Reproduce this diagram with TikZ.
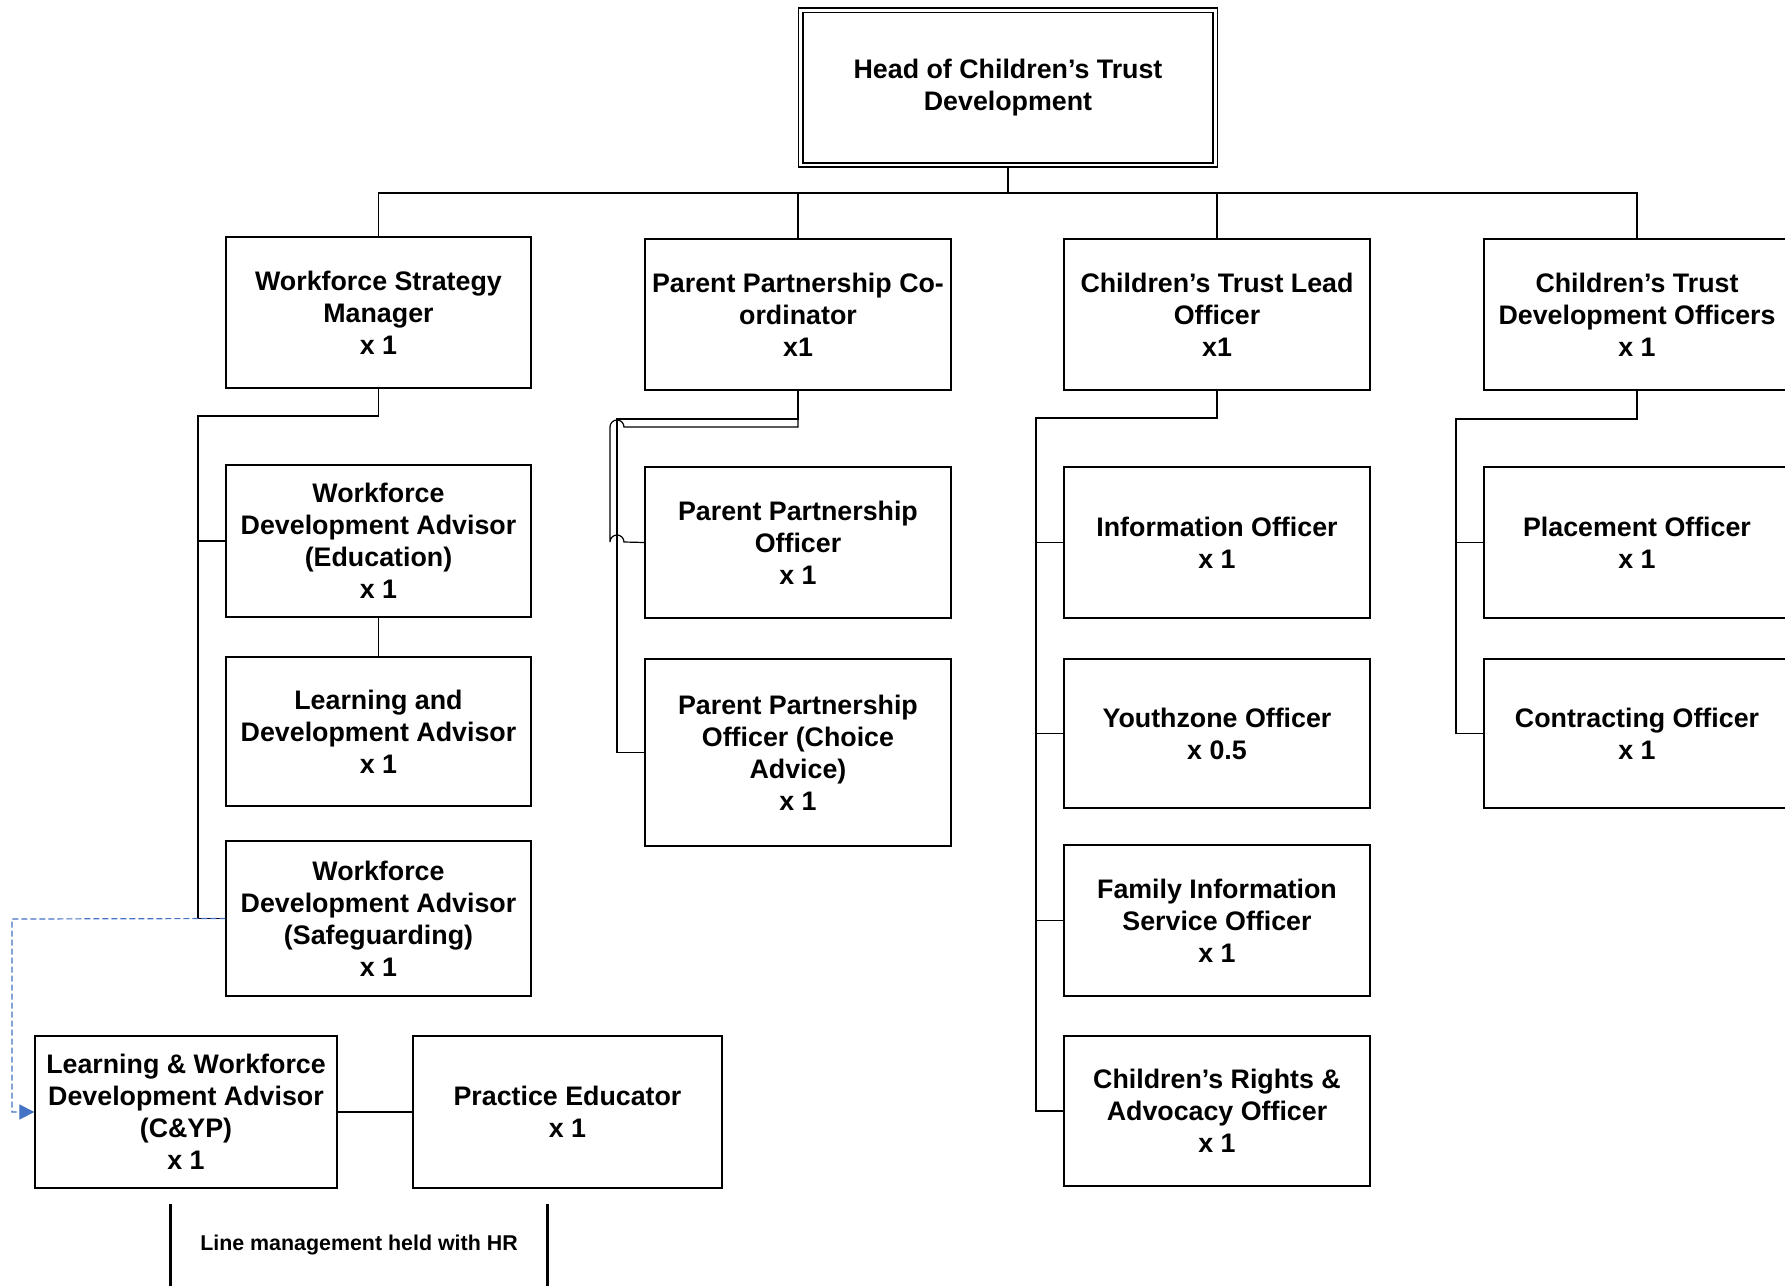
\documentclass[tikz,border=0pt]{standalone}
\usepackage{fontspec}
\setmainfont{Liberation Sans}
\usetikzlibrary{arrows.meta,calc}
\definecolor{linkblue}{HTML}{4472C4}
\begin{document}
\begin{tikzpicture}[x=0.5pt,y=-0.5pt,
  every node/.style={font=\bfseries\fontsize{13.4pt}{16pt}\selectfont, align=center, inner sep=0pt},
  post/.style={draw, line width=0.65pt, minimum width=153pt, minimum height=75.5pt},
  headpost/.style={draw, line width=0.9pt, double, double distance=1.3pt, minimum width=207.3pt, minimum height=77.3pt},
  conn/.style={line width=0.6pt},
  dashlink/.style={draw=linkblue, line width=0.6pt, dash pattern=on 3pt off 1.5pt, -{Triangle[length=7.5pt,width=7.5pt]}},
  hrline/.style={line width=1.4pt},
  notefont/.style={font=\bfseries\fontsize{10.7pt}{13pt}\selectfont}
]
\useasboundingbox (0,0) rectangle (1785,1286);

% head
\node[headpost] (head) at (1008,87.5) {Head of Children’s Trust\\Development};

% first tier
\node[post, minimum width=152.5pt] (wsm) at (378.5,312.5) {Workforce Strategy\\Manager\\x 1};
\node[post] (ppc) at (798,314.5) {Parent Partnership Co-\\ordinator\\x1};
\node[post] (ctl) at (1217,314.5) {Children’s Trust Lead\\Officer\\x1};
\node[post] (ctd) at (1637,314.5) {Children’s Trust\\Development Officers\\x 1};

% workforce column
\node[post, minimum width=152.5pt, minimum height=76pt] (wdae) at (378.5,541) {Workforce\\Development Advisor\\(Education)\\x 1};
\node[post, minimum width=152.5pt, minimum height=74.5pt] (lda) at (378.5,731.5) {Learning and\\Development Advisor\\x 1};
\node[post, minimum width=152.5pt, minimum height=77.5pt] (wdas) at (378.5,918.5) {Workforce\\Development Advisor\\(Safeguarding)\\x 1};
\node[post, minimum width=151pt, minimum height=76pt] (lwd) at (186,1112) {Learning \& Workforce\\Development Advisor\\(C\&YP)\\x 1};
\node[post, minimum width=154.5pt, minimum height=76pt] (pe) at (567.5,1112) {Practice Educator\\x 1};

% parent partnership column
\node[post] (ppo) at (798,542.5) {Parent Partnership\\Officer\\x 1};
\node[post, minimum height=93.5pt] (ppca) at (798,752.5) {Parent Partnership\\Officer (Choice\\Advice)\\x 1};

% lead officer column
\node[post] (info) at (1217,542.5) {Information Officer\\x 1};
\node[post, minimum height=74.5pt] (youth) at (1217,733.5) {Youthzone Officer\\x 0.5};
\node[post] (fiso) at (1217,920.5) {Family Information\\Service Officer\\x 1};
\node[post, minimum height=75pt] (rights) at (1217,1111) {Children’s Rights \&\\Advocacy Officer\\x 1};

% development officers column
\node[post] (place) at (1637,542.5) {Placement Officer\\x 1};
\node[post, minimum height=74.5pt] (contr) at (1637,733.5) {Contracting Officer\\x 1};

% note at the foot
\node[notefont, minimum width=188pt, minimum height=41pt] (hr) at (359,1245) {Line management held with HR};
\draw[hrline] (hr.north west) -- (hr.south west);
\draw[hrline] (hr.north east) -- (hr.south east);

% top bus
\coordinate (bus) at (1008,193);
\draw[conn] (head.south) -- (bus);
\draw[conn] (wsm.north) -- (wsm.north |- bus) -- (ctd.north |- bus) -- (ctd.north);
\draw[conn] (ppc.north) -- (ppc.north |- bus);
\draw[conn] (ctl.north) -- (ctl.north |- bus);

% workforce column connectors
\coordinate (c1) at (198,416);
\draw[conn] (wsm.south) |- (c1) -- (c1 |- wdas.west) -- (wdas.west);
\draw[conn] (c1 |- wdae.west) -- (wdae.west);
\draw[conn] (wdae.south) -- (lda.north);
\draw[conn] (lwd.east) -- (pe.west);

% parent partnership connectors (with line hops)
\coordinate (c2a) at (617,419);
\coordinate (c2b) at (624,427);
\draw[conn] (ppc.south) |- (c2a) -- (c2a |- ppca.west) -- (ppca.west);
\draw[conn] (ppc.south) |- (c2b) arc[start angle=0, end angle=180, radius=3.5pt]
  -- (610,542) arc[start angle=180, end angle=0, radius=3.5pt] -- (ppo.west);

% lead officer connectors
\coordinate (c3) at (1036,418);
\draw[conn] (ctl.south) |- (c3) -- (c3 |- rights.west) -- (rights.west);
\draw[conn] (c3 |- info.west) -- (info.west);
\draw[conn] (c3 |- youth.west) -- (youth.west);
\draw[conn] (c3 |- fiso.west) -- (fiso.west);

% development officers connectors
\coordinate (c4) at (1456,419);
\draw[conn] (ctd.south) |- (c4) -- (c4 |- contr.west) -- (contr.west);
\draw[conn] (c4 |- place.west) -- (place.west);

% dotted reporting link
\coordinate (dj) at (12,919);
\draw[dashlink] (wdas.west) -- (dj) |- (lwd.west);
\end{tikzpicture}
\end{document}
